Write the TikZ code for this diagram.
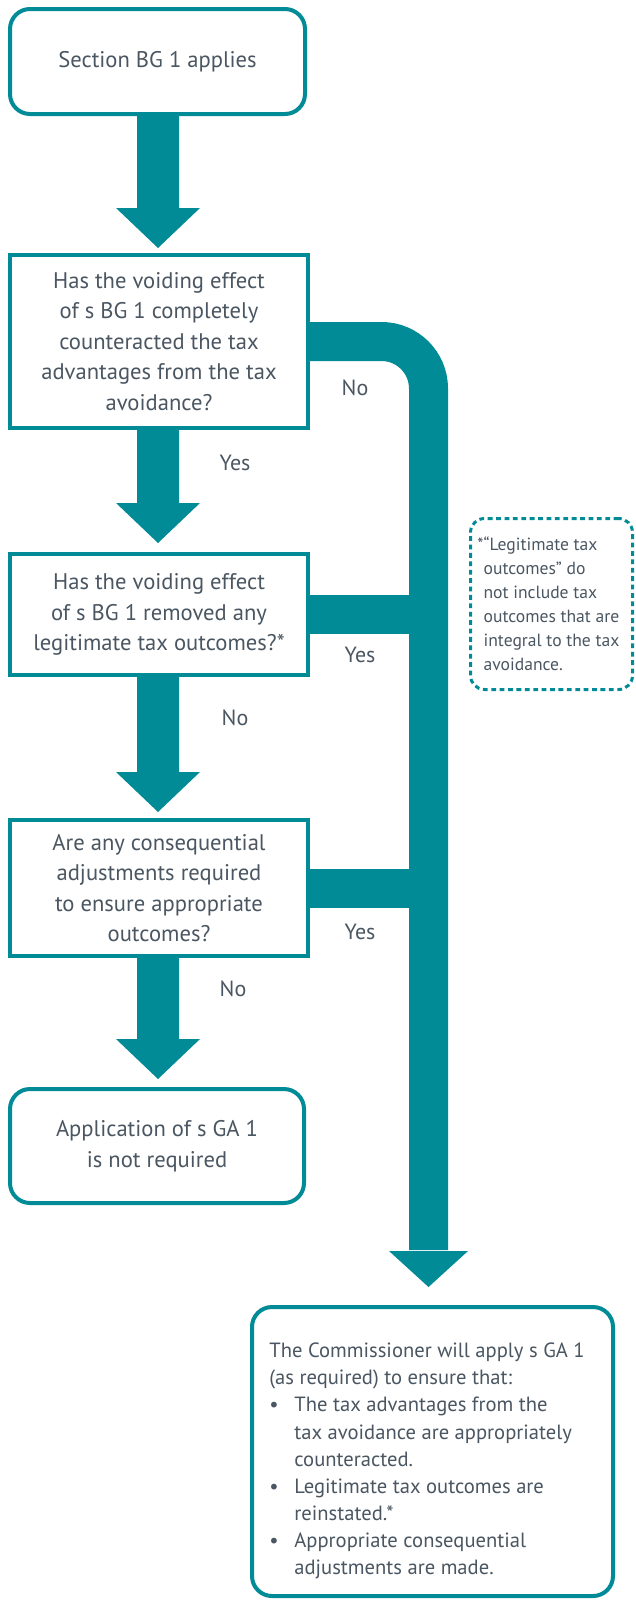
\documentclass[tikz,border=0pt]{standalone}
\usepackage{fontspec}
\setmainfont{PT Sans}
\usetikzlibrary{calc}
\definecolor{iteal}{HTML}{008B96}
\definecolor{itext}{HTML}{4A5661}
\newcommand\fatarrow[3]{% from, to, gap (px)
  \fill[iteal] let \p1=(#1), \p2=($(#2)+(0,-#3)$) in
    (\x1-10.5pt,\y1) -- (\x1+10.5pt,\y1) -- (\x1+10.5pt,\y2+20pt) -- (\x1+21pt,\y2+20pt)
    -- (\x1,\y2) -- (\x1-21pt,\y2+20pt) -- (\x1-10.5pt,\y2+20pt) -- cycle;}
\begin{document}
\begin{tikzpicture}[x=0.5pt,y=-0.5pt,
  box/.style={draw=iteal, line width=2pt, fill=white, text=itext, align=center, inner sep=0pt,
    font=\fontsize{11.3pt}{15.25pt}\selectfont},
  rbox/.style={box, rounded corners=10pt},
  lbl/.style={text=itext, font=\fontsize{11pt}{13pt}\selectfont, inner sep=0pt},
  band/.style={draw=iteal, line width=19.5pt},
  note/.style={draw=iteal, line width=1.5pt, dash pattern=on 2.4pt off 1.8pt, rounded corners=7pt,
    text=itext, align=left, inner sep=0pt, font=\fontsize{8.8pt}{12pt}\selectfont},
  listtext/.style={text=itext, align=left, inner sep=0pt, font=\fontsize{10.3pt}{13.55pt}\selectfont},
]
\useasboundingbox (0,0) rectangle (636,1601);
\coordinate (ax) at (158,0);
\coordinate (bx) at (428.5,0);
\coordinate (bend) at (428.5,1250);

% boxes
\node[rbox, minimum width=147.5pt, minimum height=52.5pt] (b1) at (157.5,61.5) {Section BG 1 applies};
\node[box, minimum width=149pt, minimum height=86.5pt] (b2) at (159,341.5)
  {Has the voiding effect\\of s BG 1 completely\\counteracted the tax\\advantages from the tax\\avoidance?};
\node[box, minimum width=149pt, minimum height=60.5pt] (b3) at (159,614.5)
  {Has the voiding effect\\of s BG 1 removed any\\legitimate tax outcomes?*};
\node[box, minimum width=149pt, minimum height=68pt] (b4) at (159,888)
  {Are any consequential\\adjustments required\\to ensure appropriate\\outcomes?};
\node[rbox, minimum width=147pt, minimum height=57pt] (b5) at (157,1146)
  {Application of s GA 1\\is not required};
\node[rbox, minimum width=180.5pt, minimum height=144.5pt] (b6) at (432.5,1451.5) {};
\node[listtext, anchor=west] (b6t) at (269,1461)
  {The Commissioner will apply s GA 1\\
   (as required) to ensure that:\\
   \makebox[12.5pt][l]{•}The tax advantages from the\\
   \hspace*{12.5pt}tax avoidance are appropriately\\
   \hspace*{12.5pt}counteracted.\\
   \makebox[12.5pt][l]{•}Legitimate tax outcomes are\\
   \hspace*{12.5pt}reinstated.*\\
   \makebox[12.5pt][l]{•}Appropriate consequential\\
   \hspace*{12.5pt}adjustments are made.};
\node[note, minimum width=81pt, minimum height=85.5pt] (nt) at (551.5,604)
  {\llap{*}“Legitimate tax\\outcomes” do\\not include tax\\outcomes that are\\integral to the tax\\avoidance.};

% left arrows
\fatarrow{b1.south -| ax}{b2.north -| ax}{5}
\fatarrow{b2.south -| ax}{b3.north -| ax}{9}
\fatarrow{b3.south -| ax}{b4.north -| ax}{6}
\fatarrow{b4.south -| ax}{b5.north -| ax}{8}

% right band
\draw[band, rounded corners=23.5pt] (b2.east) -| (bend);
\draw[band] (b3.east) -- (b3.east -| bx);
\draw[band] (b4.east) -- (b4.east -| bx);
\fill[iteal] let \p1=(bend), \p2=($(b6.north -| bx)+(0,-18)$) in
  (\x1-19.75pt,\y1-0.5pt) -- (\x1+19.75pt,\y1-0.5pt) -- (\x2,\y2) -- cycle;

% labels
\node[lbl] (l1) at (355,388) {No};
\node[lbl] (l2) at (235,463) {Yes};
\node[lbl] (l3) at (360,655) {Yes};
\node[lbl] (l4) at (235,718) {No};
\node[lbl] (l5) at (360,932) {Yes};
\node[lbl] (l6) at (233,989) {No};
\end{tikzpicture}
\end{document}
